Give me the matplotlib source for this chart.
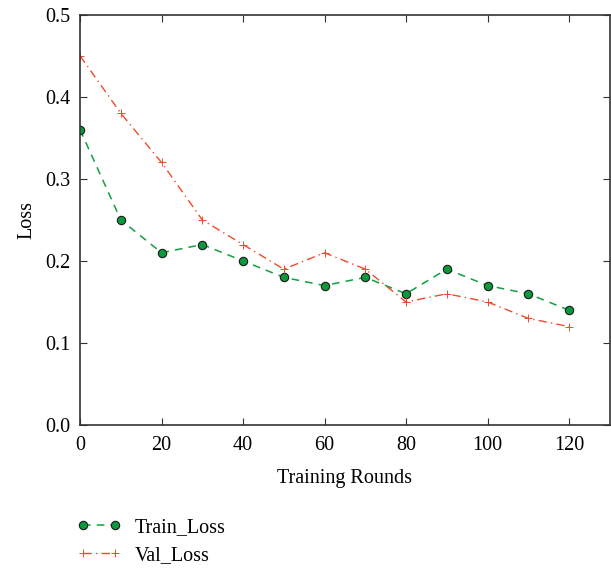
import matplotlib.pyplot as plt

rounds = [0, 10, 20, 30, 40, 50, 60, 70, 80, 90, 100, 110, 120]
train_loss = [0.36, 0.25, 0.21, 0.22, 0.20, 0.18, 0.17, 0.18, 0.16, 0.19, 0.17, 0.16, 0.14]
val_loss = [0.45, 0.38, 0.32, 0.25, 0.22, 0.19, 0.21, 0.19, 0.15, 0.16, 0.15, 0.13, 0.12]

plt.rcParams['font.family'] = ['Liberation Serif', 'DejaVu Serif']

fig = plt.figure(figsize=(6.11, 5.69), dpi=100)
ax = fig.add_axes([0.131, 0.253, 0.867, 0.721])

ax.plot(rounds, train_loss, linestyle=(0, (5, 4)), color='#10a040', linewidth=1.1,
        marker='o', markersize=6, markerfacecolor='#0a9a3c', markeredgecolor='#1a1a1a',
        markeredgewidth=0.8, label='Train_Loss')
ax.plot(rounds, val_loss, linestyle=(0, (6, 3, 1, 3)), color='#f04a2a', linewidth=1.0,
        marker='+', markersize=6, markeredgewidth=0.7, label='Val_Loss')

ax.set_xlim(0, 130)
ax.set_ylim(0, 0.5)
ax.set_xticks([0, 20, 40, 60, 80, 100, 120])
ax.set_yticks([0.0, 0.1, 0.2, 0.3, 0.4, 0.5])
ax.set_yticklabels(['0.0', '0.1', '0.2', '0.3', '0.4', '0.5'])
ax.tick_params(direction='in', top=True, right=True, length=5, labelsize=14.5,
               color='#333333', pad=8)
ax.tick_params(axis='y', pad=7)
for s in ax.spines.values():
    s.set_linewidth(1.2)
    s.set_color('#333333')
ax.set_xlabel('Training Rounds', fontsize=14.5, labelpad=10)
ax.set_ylabel('Loss', fontsize=14.5, labelpad=6)

fig.legend(loc='upper left', bbox_to_anchor=(0.112, 0.104), frameon=False, fontsize=14.5,
           handlelength=2.2, labelspacing=0.45, borderaxespad=0, numpoints=2,
           handletextpad=0.7)

fig.savefig('out.png', dpi=100)
